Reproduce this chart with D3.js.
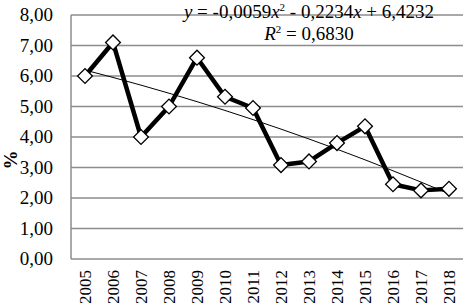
<!DOCTYPE html>
<html>
<head>
<meta charset="utf-8">
<script src="https://cdn.jsdelivr.net/npm/d3@7"></script>
<style>
  body { margin: 0; background: #fff; }
  text { font-family: "Liberation Serif", "Times New Roman", serif; }
</style>
</head>
<body>
<div id="chart"></div>
<script>
// Line chart with polynomial trend line

const width = 463,
    height = 303,
    margin = ({ top: 15, right: 0, bottom: 44, left: 71 });

const years = ["2005", "2006", "2007", "2008", "2009", "2010", "2011",
  "2012", "2013", "2014", "2015", "2016", "2017", "2018"];
const values = [6.00, 7.10, 4.00, 5.00, 6.60, 5.32, 4.95,
  3.08, 3.20, 3.80, 4.35, 2.45, 2.25, 2.30];
const yTicks = [0, 1, 2, 3, 4, 5, 6, 7, 8];
const trendCoef = [-0.0059, -0.2234, 6.4232]; // a, b, c from the equation label

const svg = d3.select("#chart")
    .append("svg")
    .attr("width", width)
    .attr("height", height);

const x = d3.scaleBand()
    .domain(years)
    .range([margin.left, width - margin.right]);

const y = d3.scaleLinear()
    .domain([0, 8])
    .range([height - margin.bottom, margin.top]);

const fmt = d => d.toFixed(2).replace(".", ",");

// grid lines
svg.append("g")
  .selectAll("line")
  .data(yTicks)
  .join("line")
    .attr("x1", margin.left)
    .attr("x2", width - margin.right)
    .attr("y1", d => y(d))
    .attr("y2", d => y(d))
    .attr("stroke", "#8c8c8c")
    .attr("stroke-width", 1.5);

// left axis line
svg.append("line")
    .attr("x1", margin.left).attr("x2", margin.left)
    .attr("y1", y(8)).attr("y2", y(0))
    .attr("stroke", "#8c8c8c")
    .attr("stroke-width", 1.5);

// y tick labels
svg.append("g")
  .selectAll("text")
  .data(yTicks)
  .join("text")
    .attr("x", 53)
    .attr("y", d => y(d) + 6)
    .attr("text-anchor", "end")
    .attr("font-size", 19)
    .text(fmt);

// y title
svg.append("text")
    .attr("transform", `translate(17,${y(3.25)}) rotate(-90)`)
    .attr("text-anchor", "middle")
    .attr("font-size", 19)
    .attr("font-weight", "bold")
    .text("%");

// x labels
svg.append("g")
  .selectAll("text")
  .data(years)
  .join("text")
    .attr("transform", d => `translate(${x(d) + x.bandwidth() / 2 + 6},${y(0) + 11}) rotate(-90)`)
    .attr("text-anchor", "end")
    .attr("font-size", 17)
    .text(d => d);

// trend line
const trend = years.map((d, i) => {
  const t = i + 1;
  return { year: d, v: trendCoef[0] * t * t + trendCoef[1] * t + trendCoef[2] };
});

svg.append("path")
    .datum(trend)
    .attr("fill", "none")
    .attr("stroke", "#000")
    .attr("stroke-width", 1)
    .attr("d", d3.line()
      .x(d => x(d.year) + x.bandwidth() / 2)
      .y(d => y(d.v))
      .curve(d3.curveMonotoneX));

// data line
const data = years.map((d, i) => ({ year: d, v: values[i] }));

svg.append("path")
    .datum(data)
    .attr("fill", "none")
    .attr("stroke", "#000")
    .attr("stroke-width", 4.5)
    .attr("stroke-linejoin", "round")
    .attr("d", d3.line()
      .x(d => x(d.year) + x.bandwidth() / 2)
      .y(d => y(d.v)));

// diamond markers
svg.append("g")
  .selectAll("path")
  .data(data)
  .join("path")
    .attr("d", d3.symbol(d3.symbolSquare, 110))
    .attr("transform", d => `translate(${x(d.year) + x.bandwidth() / 2},${y(d.v)}) rotate(45)`)
    .attr("fill", "#fff")
    .attr("stroke", "#000")
    .attr("stroke-width", 1.3);

// equation label
const eq = svg.append("text")
    .attr("x", 309)
    .attr("y", 18)
    .attr("text-anchor", "middle")
    .attr("font-size", 19);
eq.append("tspan").attr("font-style", "italic").text("y");
eq.append("tspan").text(" = -0,0059");
eq.append("tspan").attr("font-style", "italic").text("x");
eq.append("tspan").attr("font-size", 11).attr("dy", -7).text("2");
eq.append("tspan").attr("dy", 7).text(" - 0,2234");
eq.append("tspan").attr("font-style", "italic").text("x");
eq.append("tspan").text(" + 6,4232");

const r2 = svg.append("text")
    .attr("x", 309)
    .attr("y", 40)
    .attr("text-anchor", "middle")
    .attr("font-size", 19);
r2.append("tspan").attr("font-style", "italic").text("R");
r2.append("tspan").attr("font-size", 11).attr("dy", -7).text("2");
r2.append("tspan").attr("dy", 7).text(" = 0,6830");
</script>
</body>
</html>
